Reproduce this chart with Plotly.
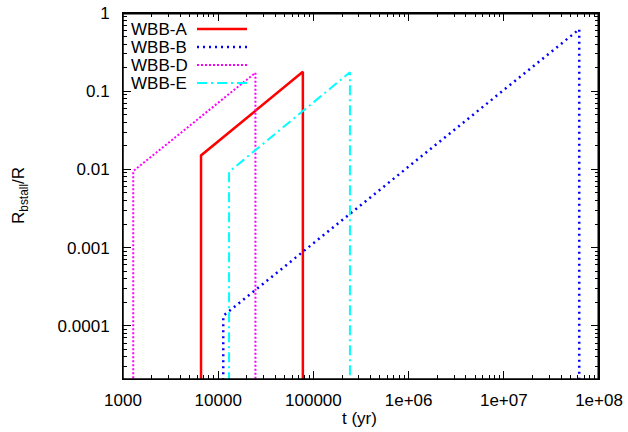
import plotly.graph_objects as go

# ---- data ----
series_names = ["WBB-A", "WBB-B", "WBB-D", "WBB-E"]
t_start = [6600, 11300, 1280, 13000]          # yr, where each curve rises
t_end = [77500, 6.2e7, 24600, 242000]         # yr, where each curve drops
r_start = [0.0151, 0.000134, 0.0095, 0.0093]  # Rbstall/R at t_start
r_end = [0.177, 0.62, 0.172, 0.175]           # Rbstall/R at t_end
r_floor = 1e-6                                # curves drop to below the axis

x_tick_vals = [1e3, 1e4, 1e5, 1e6, 1e7, 1e8]
x_tick_text = ["1000", "10000", "100000", "1e+06", "1e+07", "1e+08"]
y_tick_vals = [1e-4, 1e-3, 1e-2, 1e-1, 1]
y_tick_text = ["0.0001", "0.001", "0.01", "0.1", "1"]
x_decades = [3, 4, 5, 6, 7]
y_decades = [-5, -4, -3, -2, -1]
minor_mult = [2, 3, 4, 5, 6, 7, 8, 9]

colors = ["#ff0000", "#0000ff", "#ff00ff", "#00ffff"]
dashes = ["solid", "2px,4px", "2px,2px", "10px,4px,2px,4px"]
widths = [2.5, 2.5, 2, 2]

FONT = "Liberation Sans, Arial, sans-serif"
FS = 17

x_minor = [m * 10 ** e for e in x_decades for m in minor_mult]
y_minor = [m * 10.0 ** e for e in y_decades for m in minor_mult]

fig = go.Figure()
for i, name in enumerate(series_names):
    fig.add_trace(go.Scatter(
        x=[t_start[i], t_start[i], t_end[i], t_end[i]],
        y=[r_floor, r_start[i], r_end[i], r_floor],
        mode="lines", name=name, showlegend=False, hoverinfo="skip",
        line=dict(color=colors[i], width=widths[i], dash=dashes[i]),
    ))
# invisible trace so the overlay (minor-tick) axes are drawn
fig.add_trace(go.Scatter(x=[t_start[0]], y=[r_start[0]], xaxis="x2", yaxis="y2",
                         mode="markers", marker=dict(opacity=0),
                         showlegend=False, hoverinfo="skip"))

# plot area in pixels
L, R, T, B = 123, 599, 13, 379
W, H = 628, 432
pw, ph = R - L, B - T

def px(x):
    return (x - L) / pw

def py(y):
    return (B - y) / ph

annotations = []
frame = dict(color="black", width=1.5)
ex, ey = 0.75 / pw, 0.75 / ph
shapes = [
    dict(type="line", xref="paper", yref="paper", x0=0, x1=1, y0=1 - ey, y1=1 - ey,
         line=frame, layer="above"),
    dict(type="line", xref="paper", yref="paper", x0=1 - ex, x1=1 - ex, y0=0, y1=1,
         line=frame, layer="above"),
    dict(type="line", xref="paper", yref="paper", x0=0, x1=1, y0=0, y1=0,
         line=frame, layer="above"),
    dict(type="line", xref="paper", yref="paper", x0=0, x1=0, y0=0, y1=1,
         line=frame, layer="above"),
]
row_y = [29, 47, 65, 83]
for i, name in enumerate(series_names):
    annotations.append(dict(
        x=px(129), y=py(row_y[i]), xref="paper", yref="paper",
        text=name, showarrow=False, xanchor="left", yanchor="middle",
        font=dict(family=FONT, size=FS, color="black")))
    shapes.append(dict(
        type="line", xref="paper", yref="paper",
        x0=px(197), x1=px(247), y0=py(row_y[i]), y1=py(row_y[i]),
        line=dict(color=colors[i], width=widths[i], dash=dashes[i])))

annotations.append(dict(
    x=px(359), y=py(418), xref="paper", yref="paper", text="t (yr)",
    showarrow=False, xanchor="center", yanchor="middle",
    font=dict(family=FONT, size=FS, color="black")))
annotations.append(dict(
    x=px(20), y=0.5, xref="paper", yref="paper",
    text="R<sub>bstall</sub>/R", textangle=-90,
    showarrow=False, xanchor="center", yanchor="middle",
    font=dict(family=FONT, size=FS, color="black")))

def axis_common(ticklen):
    return dict(
        type="log", tickmode="array",
        showline=True, linecolor="black", linewidth=1, mirror="allticks",
        ticks="inside", ticklen=ticklen, tickcolor="black", tickwidth=1,
        showgrid=False, zeroline=False, automargin=False,
        tickfont=dict(family=FONT, size=FS, color="black"),
    )

xr = [3, 8]
yr = [-4.68, 0]

fig.update_layout(
    width=W, height=H, autosize=False,
    margin=dict(l=L, r=W - R, t=T, b=H - B, pad=0, autoexpand=False),
    paper_bgcolor="white", plot_bgcolor="white",
    showlegend=False,
    xaxis=dict(range=xr, tickvals=x_tick_vals, ticktext=x_tick_text,
               ticklabelstandoff=6, **axis_common(8)),
    yaxis=dict(range=yr, tickvals=y_tick_vals, ticktext=y_tick_text,
               ticklabelstandoff=9, **axis_common(8)),
    xaxis2=dict(range=xr, tickvals=x_minor, overlaying="x", anchor="y2",
                showticklabels=False, **axis_common(4)),
    yaxis2=dict(range=yr, tickvals=y_minor, overlaying="y", anchor="x2",
                showticklabels=False, **axis_common(4)),
    annotations=annotations,
    shapes=shapes,
)

fig.write_html(
    "out.html",
    config={"displayModeBar": False},
    post_script="document.body.style.margin='0';document.body.style.padding='0';",
)
